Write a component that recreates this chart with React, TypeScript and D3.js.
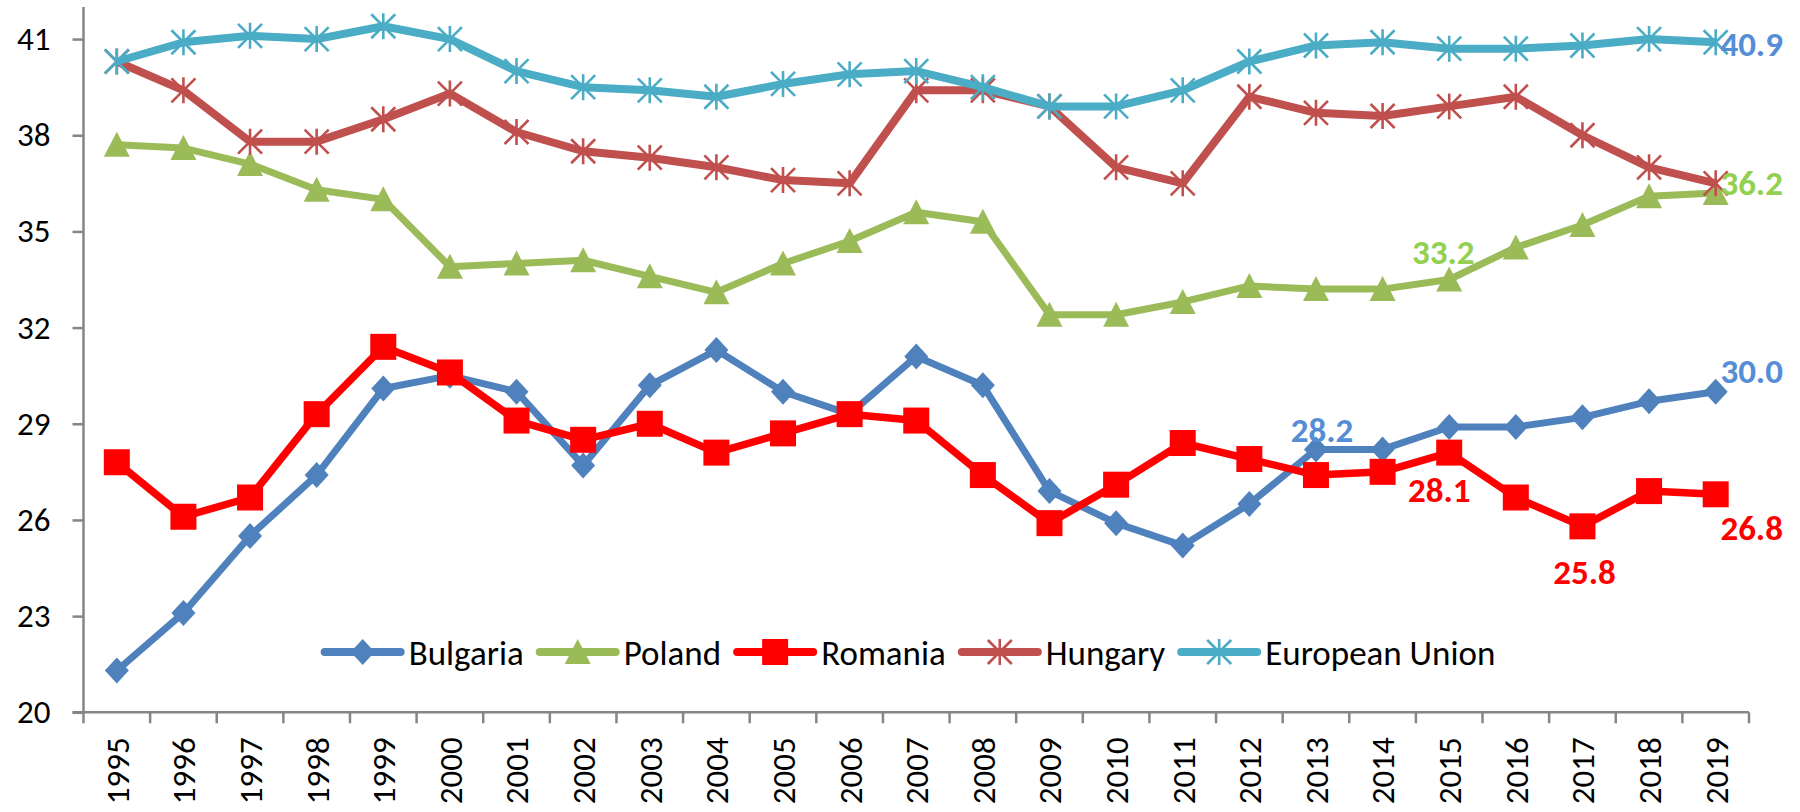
import React, { useEffect, useRef } from 'react';
import * as d3 from 'd3';

const years = ['1995', '1996', '1997', '1998', '1999', '2000', '2001', '2002', '2003', '2004', '2005', '2006', '2007', '2008', '2009', '2010', '2011', '2012', '2013', '2014', '2015', '2016', '2017', '2018', '2019'];
const yTicks = [20, 23, 26, 29, 32, 35, 38, 41];

const bulgaria = [21.3, 23.1, 25.5, 27.4, 30.1, 30.5, 30.0, 27.7, 30.2, 31.3, 30.0, 29.3, 31.1, 30.2, 26.9, 25.9, 25.2, 26.5, 28.2, 28.2, 28.9, 28.9, 29.2, 29.7, 30.0];
const poland = [37.7, 37.6, 37.1, 36.3, 36.0, 33.9, 34.0, 34.1, 33.6, 33.1, 34.0, 34.7, 35.6, 35.3, 32.4, 32.4, 32.8, 33.3, 33.2, 33.2, 33.5, 34.5, 35.2, 36.1, 36.2];
const romania = [27.8, 26.1, 26.7, 29.3, 31.4, 30.6, 29.1, 28.5, 29.0, 28.1, 28.7, 29.3, 29.1, 27.4, 25.9, 27.1, 28.4, 27.9, 27.4, 27.5, 28.1, 26.7, 25.8, 26.9, 26.8];
const hungary = [40.3, 39.4, 37.8, 37.8, 38.5, 39.3, 38.1, 37.5, 37.3, 37.0, 36.6, 36.5, 39.4, 39.4, 38.9, 37.0, 36.5, 39.2, 38.7, 38.6, 38.9, 39.2, 38.0, 37.0, 36.5];
const eu = [40.3, 40.9, 41.1, 41.0, 41.4, 41.0, 40.0, 39.5, 39.4, 39.2, 39.6, 39.9, 40.0, 39.5, 38.9, 38.9, 39.4, 40.3, 40.8, 40.9, 40.7, 40.7, 40.8, 41.0, 40.9];

const seriesNames = ['Bulgaria', 'Poland', 'Romania', 'Hungary', 'European Union'];

// annotated values: [series name, year, text]
const labelSeries = ['European Union', 'Poland', 'Poland', 'Bulgaria', 'Bulgaria', 'Romania', 'Romania', 'Romania'];
const labelYears = ['2019', '2019', '2015', '2019', '2013', '2015', '2017', '2019'];
const labelTexts = ['40.9', '36.2', '33.2', '30.0', '28.2', '28.1', '25.8', '26.8'];

const FONT = 'Carlito, Calibri, Lato, sans-serif';

const styles = {
  Bulgaria: { color: '#4F81BD', width: 7, marker: 'diamond' },
  Poland: { color: '#9BBB59', width: 7, marker: 'triangle' },
  Romania: { color: '#FF0000', width: 7.5, marker: 'square' },
  Hungary: { color: '#C0504D', width: 8, marker: 'star' },
  'European Union': { color: '#4BACC6', width: 8, marker: 'star' },
};

// label offsets from the data point, px
const labelLayout = [
  { dx: 36, dy: 1, color: '#558ED5' },
  { dx: 36, dy: -11, color: '#92D050' },
  { dx: -6, dy: -28, color: '#92D050' },
  { dx: 36, dy: -21, color: '#558ED5' },
  { dx: 6, dy: -20, color: '#558ED5' },
  { dx: -10, dy: 37, color: '#FF0000' },
  { dx: 2, dy: 45, color: '#FF0000' },
  { dx: 36, dy: 33, color: '#FF0000' },
];

function drawMarker(g, type, color) {
  if (type === 'diamond') {
    g.append('path').attr('d', 'M0,-13L12,0L0,13L-12,0Z').attr('fill', color);
  } else if (type === 'triangle') {
    g.append('path').attr('d', 'M0,-13L13,12L-13,12Z').attr('fill', color);
  } else if (type === 'square') {
    g.append('rect').attr('x', -13).attr('y', -13).attr('width', 26).attr('height', 26).attr('fill', color);
  } else {
    g.append('path')
      .attr('d', 'M0,-13L0,13M-12,-12L12,12M-12,12L12,-12')
      .attr('stroke', color)
      .attr('stroke-width', 2.6)
      .attr('fill', 'none');
  }
}

export default function App() {
  const svgRef = useRef(null);

  useEffect(() => {
    document.body.style.margin = '0';
    const svg = d3.select(svgRef.current);
    svg.selectAll('*').remove();

    const values = {
      Bulgaria: bulgaria,
      Poland: poland,
      Romania: romania,
      Hungary: hungary,
      'European Union': eu,
    };

    const x = d3.scaleBand().domain(years).range([83.5, 1749]);
    const y = d3.scaleLinear().domain([20, 42]).range([712.3, 7]);
    const cx = (yr) => x(yr) + x.bandwidth() / 2;

    const axisColor = '#868686';

    // y axis
    const yAxis = svg.append('g').attr('transform', 'translate(83.5,0)');
    yAxis.call(d3.axisLeft(y).tickValues(yTicks).tickSize(11).tickPadding(22).tickFormat(d3.format('d')));
    yAxis.select('.domain').attr('stroke', axisColor).attr('stroke-width', 2.5).attr('d', `M0,${y(42)}V${y(20)}`);
    yAxis.selectAll('.tick line').attr('stroke', axisColor).attr('stroke-width', 2.5);
    yAxis.selectAll('.tick text')
      .attr('font-family', FONT)
      .attr('font-size', 33)
      .attr('fill', '#000');

    // x axis
    const xAxis = svg.append('g').attr('transform', `translate(0,${y(20)})`);
    xAxis.append('line')
      .attr('x1', 72.5).attr('x2', 1749)
      .attr('stroke', axisColor).attr('stroke-width', 2.5);
    const edges = years.map((yr) => x(yr)).concat([x(years[years.length - 1]) + x.bandwidth()]);
    xAxis.selectAll('.xt').data(edges).join('line')
      .attr('x1', (d) => d).attr('x2', (d) => d)
      .attr('y1', 0).attr('y2', 11)
      .attr('stroke', axisColor).attr('stroke-width', 2.5);
    xAxis.selectAll('.xl').data(years).join('text')
      .attr('transform', (d) => `translate(${cx(d)},25) rotate(-90)`)
      .attr('text-anchor', 'end')
      .attr('dy', '0.36em')
      .attr('font-family', FONT)
      .attr('font-size', 33)
      .attr('fill', '#000')
      .text((d) => d);

    // series
    const line = d3.line().x((d, i) => cx(years[i])).y((d) => y(d));
    seriesNames.forEach((name) => {
      const st = styles[name];
      const g = svg.append('g');
      g.append('path')
        .attr('d', line(values[name]))
        .attr('fill', 'none')
        .attr('stroke', st.color)
        .attr('stroke-width', st.width)
        .attr('stroke-linejoin', 'round');
      values[name].forEach((v, i) => {
        const m = g.append('g').attr('transform', `translate(${cx(years[i])},${y(v)})`);
        drawMarker(m, st.marker, st.color);
      });
    });

    // legend
    const legend = svg.append('g').attr('transform', 'translate(0,652)');
    const items = seriesNames.map((name) => {
      const it = legend.append('g');
      const st = styles[name];
      it.append('line')
        .attr('x1', 0).attr('x2', 76)
        .attr('stroke', st.color)
        .attr('stroke-width', 8)
        .attr('stroke-linecap', 'round');
      drawMarker(it.append('g').attr('transform', 'translate(38,0)'), st.marker, st.color);
      const t = it.append('text')
        .attr('x', 84)
        .attr('dy', '0.36em')
        .attr('font-family', FONT)
        .attr('font-size', 35)
        .attr('fill', '#000')
        .text(name);
      return { it, w: 84 + t.node().getComputedTextLength() };
    });
    const gap = 16;
    const total = d3.sum(items, (d) => d.w) + gap * (items.length - 1);
    let pos = 910 - total / 2;
    items.forEach((d) => {
      d.it.attr('transform', `translate(${pos},0)`);
      pos += d.w + gap;
    });

    // data labels
    labelTexts.forEach((txt, i) => {
      const name = labelSeries[i];
      const idx = years.indexOf(labelYears[i]);
      const lay = labelLayout[i];
      svg.append('text')
        .attr('x', cx(years[idx]) + lay.dx)
        .attr('y', y(values[name][idx]) + lay.dy)
        .attr('dy', '0.36em')
        .attr('text-anchor', 'middle')
        .attr('font-family', FONT)
        .attr('font-size', 35)
        .attr('font-weight', 'bold')
        .attr('fill', lay.color)
        .text(txt);
    });
  }, []);

  return (
    <svg
      ref={svgRef}
      width={1800}
      height={812}
      style={{ display: 'block', background: '#fff' }}
    />
  );
}
